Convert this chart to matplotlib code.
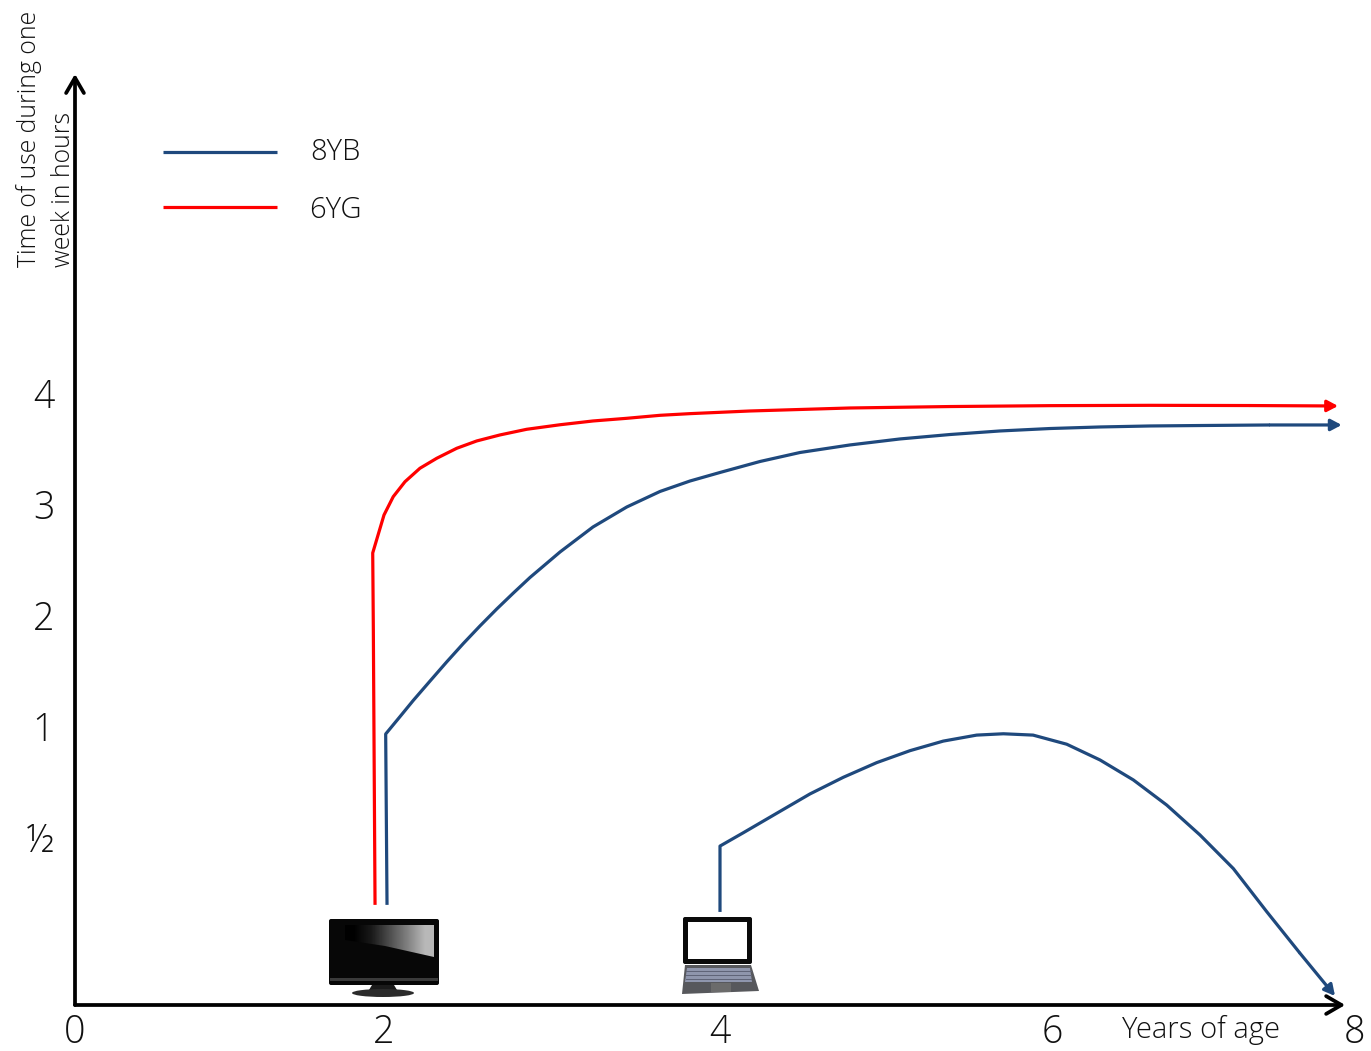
"""Screen time by age: TV and laptop use for 8YB and 6YG."""
import matplotlib
matplotlib.use("Agg")
import matplotlib.pyplot as plt
import numpy as np
from matplotlib.patches import Polygon, Rectangle, Ellipse, FancyBboxPatch

W, H = 1371, 1051
INK = "#111111"
BLUE = "#1f497d"
RED = "#ff0000"

# the axes of the drawing are hand spaced, so each tick gets its own pixel
X_TICKS = [0, 2, 4, 6, 8]
X_PIX = [75, 384, 720, 1052, 1355]
Y_TICKS = [0, 0.5, 1, 2, 3, 4]
Y_LABELS = ["½", "1", "2", "3", "4"]
Y_PIX = [1005, 837, 726, 615, 504, 393]
Y_TOP = 6.91
Y_TOP_PIX = 70
Y_ARROW = 6.874

red_tv_x = [1.942, 1.931, 1.927, 2.000, 2.055, 2.125, 2.214, 2.314, 2.433, 2.552, 2.690, 2.849,
            3.048, 3.244, 3.445, 3.643, 3.821, 4.181, 4.783, 5.386, 5.988, 6.647, 7.307, 7.888]
red_tv_y = [0.298, 1.865, 2.559, 2.901, 3.066, 3.201, 3.322, 3.412, 3.502, 3.568, 3.622, 3.673,
            3.714, 3.748, 3.772, 3.799, 3.814, 3.838, 3.865, 3.878, 3.886, 3.889, 3.887, 3.883]

blue_tv_x = [2.018, 2.010, 2.095, 2.174, 2.274, 2.373, 2.472, 2.571, 2.671, 2.770, 2.869, 3.048, 3.244,
             3.445, 3.643, 3.821, 4.0, 4.241, 4.482, 4.783, 5.084, 5.386, 5.687, 5.988, 6.317, 6.647,
             6.977, 7.439, 7.912]
blue_tv_y = [0.298, 0.964, 1.084, 1.230, 1.405, 1.577, 1.743, 1.901, 2.054, 2.198, 2.338, 2.568, 2.793,
             2.973, 3.113, 3.207, 3.284, 3.383, 3.464, 3.532, 3.586, 3.626, 3.658, 3.680, 3.694, 3.703,
             3.707, 3.712, 3.712]

blue_pc_x = [4.0, 4.0, 4.140, 4.342, 4.542, 4.743, 4.944, 5.145, 5.345, 5.546, 5.707, 5.886, 6.097,
             6.317, 6.537, 6.757, 6.977, 7.197, 7.417, 7.637, 7.868]
blue_pc_y = [0.277, 0.473, 0.519, 0.607, 0.694, 0.769, 0.835, 0.889, 0.932, 0.959, 0.965, 0.959, 0.918,
             0.847, 0.757, 0.644, 0.509, 0.406, 0.278, 0.154, 0.027]

plt.rcParams["font.family"] = ["Open Sans", "DejaVu Sans"]
plt.rcParams["font.weight"] = 300

fig = plt.figure(figsize=(W / 100, H / 100), dpi=100)

# overlay in picture pixels for the legend and the two device icons
pix = fig.add_axes([0, 0, 1, 1])
pix.set_xlim(0, W)
pix.set_ylim(H, 0)
pix.axis("off")

ax = fig.add_axes([75 / W, (H - 1005) / H, (1355 - 75) / W, (1005 - Y_TOP_PIX) / H])


def x_fwd(v):
    return np.interp(v, X_TICKS, X_PIX)


def x_inv(p):
    return np.interp(p, X_PIX, X_TICKS)


y_vals = Y_TICKS + [Y_TOP]
y_pix = [-p for p in Y_PIX] + [-Y_TOP_PIX]


def y_fwd(v):
    return np.interp(v, y_vals, y_pix)


def y_inv(p):
    return np.interp(p, y_pix, y_vals)


ax.set_xscale("function", functions=(x_fwd, x_inv))
ax.set_yscale("function", functions=(y_fwd, y_inv))
ax.set_xlim(0, 8)
ax.set_ylim(0, Y_TOP)
for s in ax.spines.values():
    s.set_visible(False)
ax.patch.set_visible(False)

ax.set_xticks(X_TICKS)
ax.set_xticklabels([str(t) for t in X_TICKS], fontsize=27, color=INK)
ax.set_yticks(Y_TICKS[1:])
ax.set_yticklabels(Y_LABELS, fontsize=27, color=INK)
ax.minorticks_off()
ax.tick_params(length=0)
ax.tick_params(axis="x", pad=6)
ax.tick_params(axis="y", pad=15)

# main axes with open arrow heads
arrow = dict(arrowstyle="->,head_length=0.55,head_width=0.32", lw=2.7, color="black",
             shrinkA=0, shrinkB=0, mutation_scale=20)
ax.annotate("", xy=(7.935, 0), xytext=(0, 0), arrowprops=arrow, annotation_clip=False)
ax.annotate("", xy=(0, Y_ARROW), xytext=(0, 0), arrowprops=arrow, annotation_clip=False)


def curve(xs, ys, color):
    ax.plot(xs[:-1], ys[:-1], color=color, lw=2.3, clip_on=False, solid_joinstyle="round",
            solid_capstyle="butt", zorder=3)
    ax.annotate("", xy=(xs[-1], ys[-1]), xytext=(xs[-2], ys[-2]), annotation_clip=False,
                arrowprops=dict(arrowstyle="-|>,head_length=0.32,head_width=0.17", lw=2.3, color=color,
                                shrinkA=0, shrinkB=0, mutation_scale=20), zorder=3)


curve(red_tv_x, red_tv_y, RED)
curve(blue_tv_x, blue_tv_y, BLUE)
curve(blue_pc_x, blue_pc_y, BLUE)

pix.text(29, 267, "Time of use during one", fontsize=17.8, rotation=90, ha="center", va="bottom", color=INK)
pix.text(63, 267, "week in hours", fontsize=17.8, rotation=90, ha="center", va="bottom", color=INK)
pix.text(1201, 1030, "Years of age", fontsize=21, ha="center", va="center", color=INK)
pix.text(335, 152, "8YB", fontsize=21, ha="center", va="center", color=INK)
pix.text(335, 210, "6YG", fontsize=21, ha="center", va="center", color=INK)
pix.plot([163, 277], [152, 152], color=BLUE, lw=2.3, solid_capstyle="butt")
pix.plot([163, 277], [207, 207], color=RED, lw=2.3, solid_capstyle="butt")

# television: dark body, glossy screen with a grey glare
pix.add_patch(FancyBboxPatch((329, 919), 110, 66, boxstyle="round,pad=0,rounding_size=2", fc="#070707", ec="none"))
pix.add_patch(Rectangle((330, 978), 108, 3, fc="#3a3a3a", ec="none"))
glare = Polygon([(345, 925), (434, 925), (434, 957), (385, 946), (345, 940)], transform=pix.transData, fc="none", ec="none")
pix.add_patch(glare)
shine = pix.imshow([[0.0, 0.1, 0.3, 0.5, 0.72]], cmap="gray", vmin=0, vmax=1, extent=(345, 434, 957, 925),
                   interpolation="bilinear", aspect="auto", zorder=2)
shine.set_clip_path(glare)
pix.set_xlim(0, W)
pix.set_ylim(H, 0)
pix.add_patch(Polygon([(372, 985), (394, 985), (397, 990), (369, 990)], fc="#1a1a1a", ec="none"))
pix.add_patch(Ellipse((383, 993), 62, 8, fc="#2b2b2b", ec="none"))

# laptop
pix.add_patch(FancyBboxPatch((683, 917), 69, 47, boxstyle="round,pad=0,rounding_size=2", fc="#0a0a0a", ec="none"))
pix.add_patch(Rectangle((688, 922), 59, 37, fc="white", ec="none"))
pix.add_patch(Polygon([(685, 965), (751, 965), (759, 991), (682, 994)], fc="#57585c", ec="none"))
pix.add_patch(Polygon([(687, 968), (750, 968), (752, 982), (685, 982)], fc="#8f96ad", ec="none"))
pix.add_patch(Rectangle((711, 983), 20, 9, fc="#6b6b6b", ec="none"))
for key_y in (971, 975, 979):
    pix.plot([686, 751], [key_y, key_y], color="#5f6478", lw=0.7)

fig.savefig("out.png", dpi=100)
plt.close(fig)
